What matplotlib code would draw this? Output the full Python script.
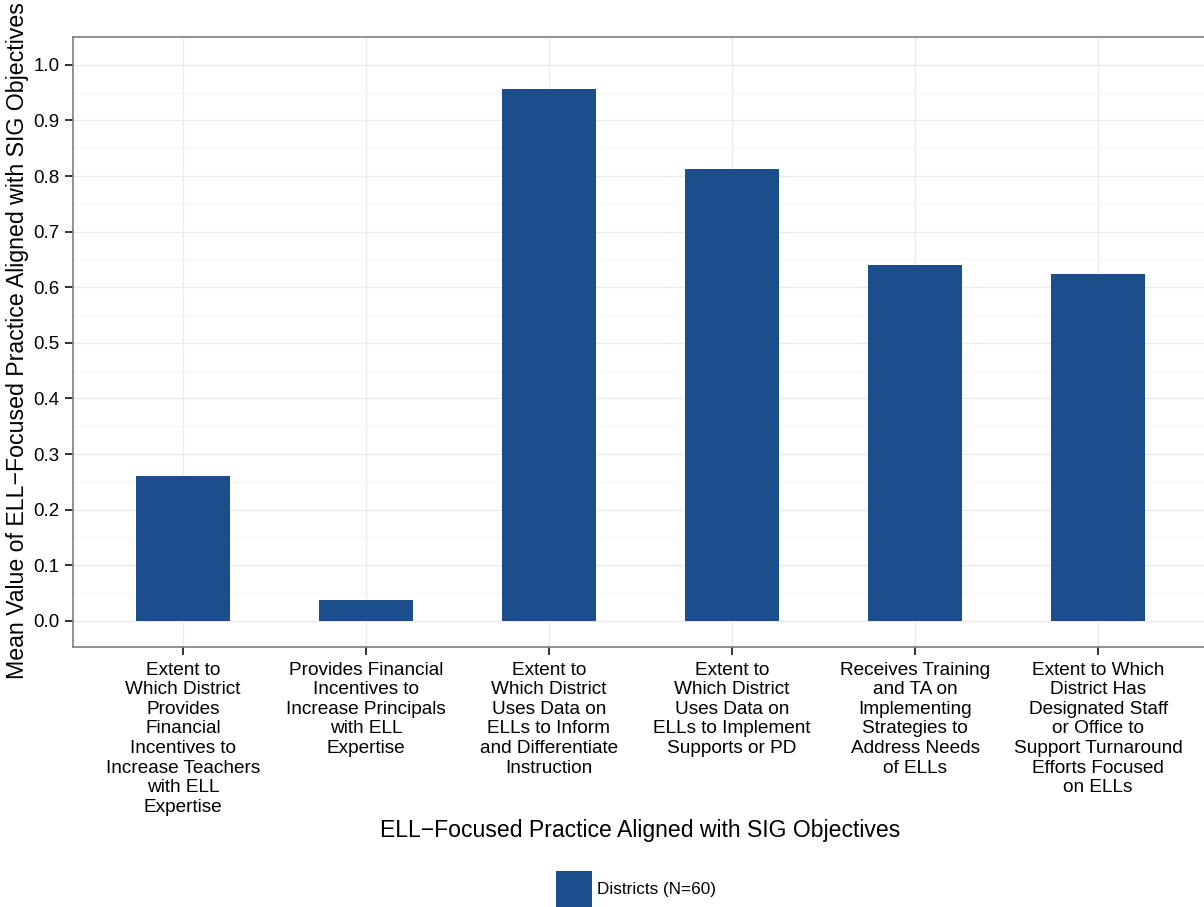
import matplotlib
matplotlib.use("Agg")
import matplotlib.pyplot as plt
from matplotlib.patches import Patch
from matplotlib.ticker import MultipleLocator

plt.rcParams['font.family'] = ['Liberation Sans', 'DejaVu Sans']

# Practices (x categories) and district mean values
practices = [
    "Extent to\nWhich District\nProvides\nFinancial\nIncentives to\nIncrease Teachers\nwith ELL\nExpertise",
    "Provides Financial\nIncentives to\nIncrease Principals\nwith ELL\nExpertise",
    "Extent to\nWhich District\nUses Data on\nELLs to Inform\nand Differentiate\nInstruction",
    "Extent to\nWhich District\nUses Data on\nELLs to Implement\nSupports or PD",
    "Receives Training\nand TA on\nImplementing\nStrategies to\nAddress Needs\nof ELLs",
    "Extent to Which\nDistrict Has\nDesignated Staff\nor Office to\nSupport Turnaround\nEfforts Focused\non ELLs",
]
means = [0.261, 0.038, 0.957, 0.812, 0.640, 0.624]
yticks = [0.0, 0.1, 0.2, 0.3, 0.4, 0.5, 0.6, 0.7, 0.8, 0.9, 1.0]
series_name = "Districts (N=60)"

bar_color = "#1B4E8A"

fig = plt.figure(figsize=(12.04, 9.07), dpi=100)
# plot panel runs a little past the right edge, like the original
ax = fig.add_axes([73 / 1204, 260 / 907, 1135 / 1204, 610 / 907])

pos = list(range(1, len(means) + 1))
ax.bar(pos, means, width=0.51, color=bar_color, zorder=3)

ax.set_xlim(0.4, len(means) + 0.6)
ax.set_ylim(-0.047, 1.05)
ax.set_xticks(pos)
ax.set_xticklabels(practices, fontsize=13.7, linespacing=1.2)
ax.set_yticks(yticks)
ax.set_yticklabels(["%.1f" % v for v in yticks], fontsize=13.5)
ax.yaxis.set_minor_locator(MultipleLocator(0.05))
ax.tick_params(axis='x', pad=4.5)

# theme_bw style grid
ax.grid(True, which='major', color='#EBEBEB', linewidth=1.0, zorder=0)
ax.grid(True, which='minor', axis='y', color='#F5F5F5', linewidth=0.8, zorder=0)
ax.tick_params(which='minor', length=0)
ax.tick_params(which='major', length=6, width=1.3, color='#222222')
ax.tick_params(axis='y', pad=3.5)
for s in ax.spines.values():
    s.set_color('#7F7F7F')
    s.set_linewidth(1.2)

fig.text(640 / 1204, 1 - 830 / 907, "ELL\u2212Focused Practice Aligned with SIG Objectives",
         ha='center', va='center', fontsize=16.6)
fig.text(18 / 1204, 1 - 341 / 907,
         "Mean Value of ELL\u2212Focused Practice Aligned with SIG Objectives",
         ha='center', va='center', rotation=90, fontsize=16.7)

fig.legend(handles=[Patch(facecolor=bar_color, label=series_name)],
           loc='center', bbox_to_anchor=(636 / 1204, 1 - 889 / 907),
           frameon=False, fontsize=12.3, handlelength=2.1, handleheight=2.85,
           handletextpad=0.25, borderpad=0.0)

fig.savefig("out.png", dpi=100)
